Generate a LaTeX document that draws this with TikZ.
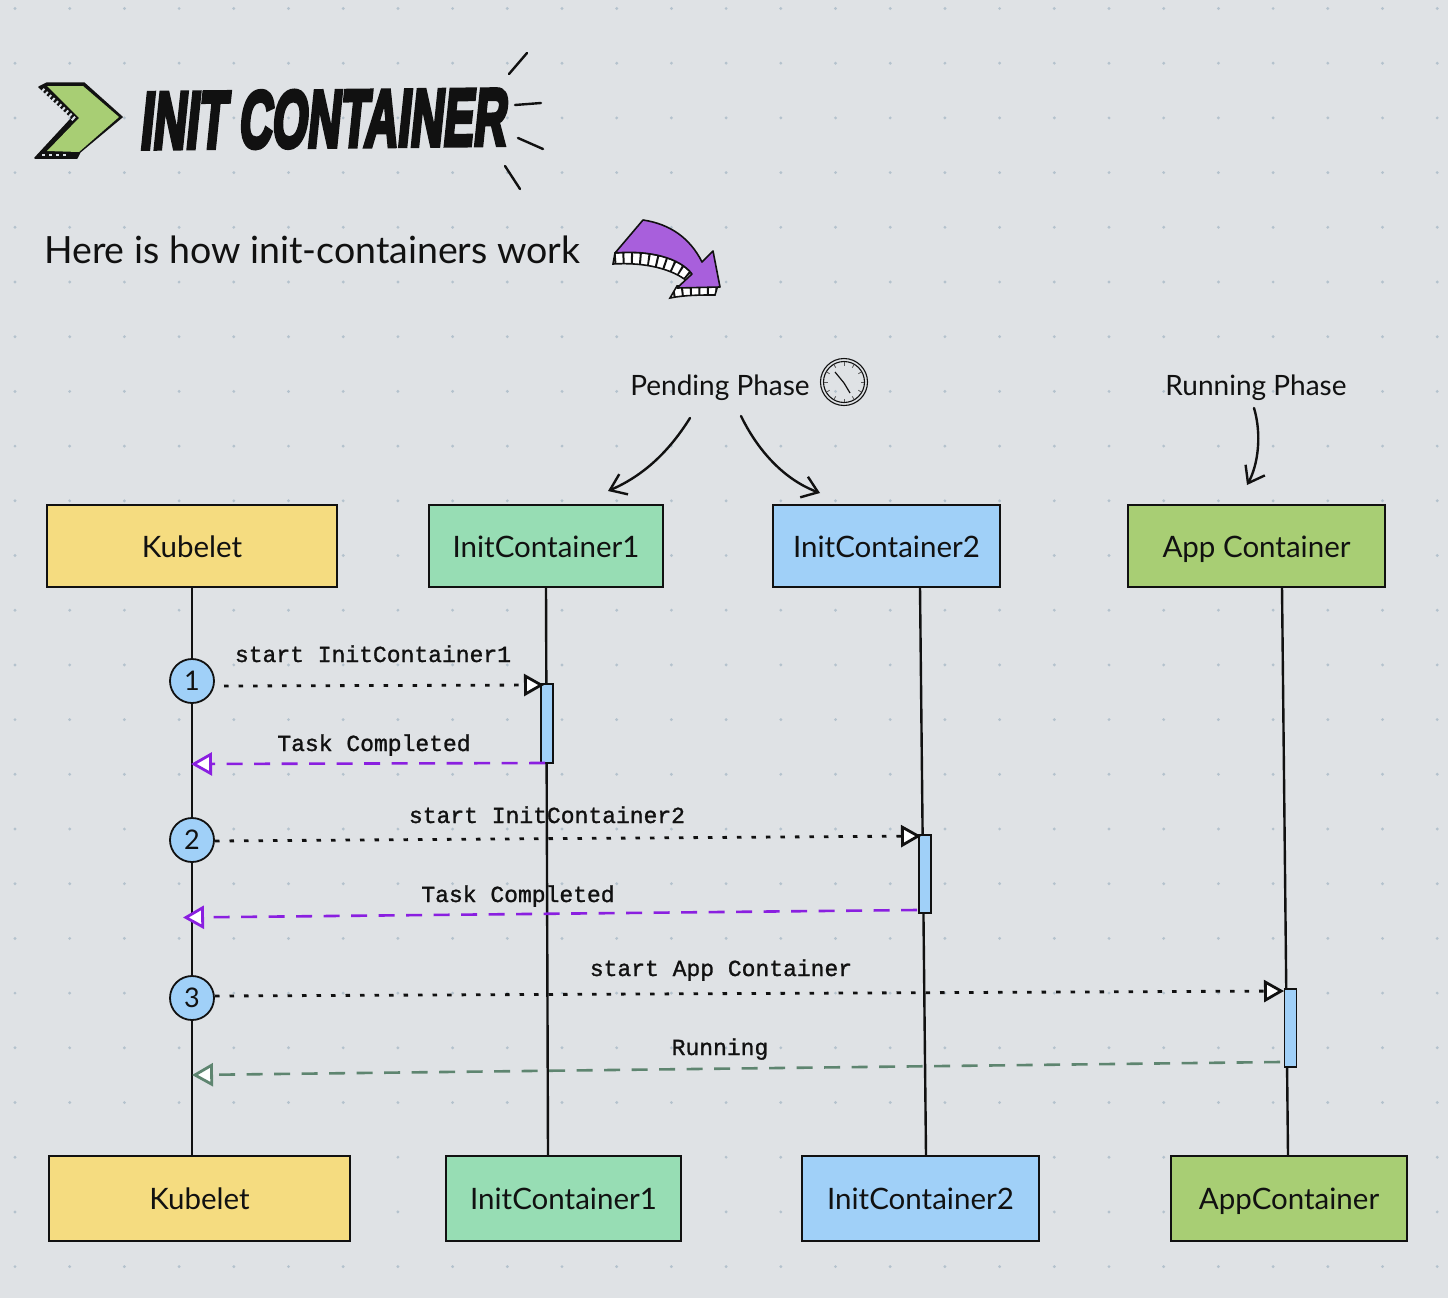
\documentclass[tikz,border=0pt]{standalone}
\usepackage{fontspec}
\usepackage{graphicx}
\usetikzlibrary{arrows.meta,calc}
\setmainfont{Lato}
\newfontfamily\msgfont[FakeBold=1.2]{Liberation Mono}
\newfontfamily\titlefont[FakeSlant=0.2,FakeBold=6]{Liberation Sans Bold}
\definecolor{bg}{HTML}{DFE2E5}
\definecolor{griddot}{HTML}{B4C2CD}
\definecolor{kyellow}{HTML}{F5DC80}
\definecolor{kgreen}{HTML}{97DDB4}
\definecolor{kblue}{HTML}{A0D0F8}
\definecolor{kolive}{HTML}{A8CE74}
\definecolor{kpurple}{HTML}{A85FDC}
\definecolor{retpurple}{HTML}{8A1FE0}
\definecolor{retgreen}{HTML}{5E8570}
\definecolor{ink}{HTML}{111111}
\tikzset{
  actor/.style={draw=ink,line width=2.4pt,inner sep=0pt,font=\fontsize{29.5}{32}\selectfont,text=ink,text height=28pt,text depth=6pt},
  life/.style={draw=ink,line width=2.4pt},
  activation/.style={draw=ink,line width=1.4pt,fill=kblue,minimum width=12pt,inner sep=0pt},
  stepcircle/.style={circle,draw=ink,line width=1.8pt,fill=kblue,minimum size=44pt,inner sep=0pt,font=\fontsize{27}{30}\selectfont,text=ink},
  msgtext/.style={font=\msgfont\fontsize{23}{26}\selectfont,text=ink,inner sep=0pt,text height=19pt,text depth=5pt},
  callmsg/.style={draw=ink,line width=2.8pt,dash pattern=on 4.5pt off 10pt,
     -{Triangle[open,fill=white,length=20pt,width=22pt,line width=2.8pt]}},
  retmsg/.style={line width=2.6pt,dash pattern=on 16pt off 11.5pt,
     -{Triangle[open,fill=white,length=21pt,width=23pt,line width=2.8pt]}},
  hand/.style={draw=ink,line width=2.4pt,line cap=round,-{Straight Barb[length=15pt,width=22pt,line width=2.4pt]}},
  spark/.style={draw=ink,line width=2.4pt,line cap=round},
  phase/.style={font=\fontsize{28}{32}\selectfont,text=ink,inner sep=0pt,text height=28pt,text depth=6pt},
}
\begin{document}
\begin{tikzpicture}[x=1pt,y=-1pt]
\useasboundingbox (0,0) rectangle (1448,1298);
\fill[bg] (0,0) rectangle (1448,1298);
\foreach \i in {0,...,26}{\foreach \j in {0,...,23}{
  \fill[griddot] ({15+54.7*\i},{8.5+54.7*\j}) circle (1.6pt);}}

% chevron logo
\fill[ink,draw=ink,line width=1.5pt,line join=round] (39,87) -- (47,83) -- (84,83) -- (122,117) -- (80,152) -- (77,158) -- (35,158) -- (72,118) -- cycle;
\fill[kolive] (47,86) -- (83,86) -- (119,117) -- (79,152) -- (47,151) -- (79,118) -- cycle;
\draw[griddot!50!white,line width=5pt,dash pattern=on 2pt off 2.6pt] (42,90) -- (75,120);
\draw[griddot!50!white,line width=2.5pt,dash pattern=on 2.5pt off 4.5pt] (42,155) -- (70,155);

% title
\node[inner sep=0pt,text=ink,rotate=0.6,font=\titlefont\fontsize{76}{78}\selectfont] (title) at (322,119) {\resizebox{366pt}{56pt}{INIT CONTAINER}};
\draw[spark] (509,74) -- (527,53);
\draw[spark] (515,105) -- (541,103);
\draw[spark] (518,138) -- (543,149);
\draw[spark] (505,166) -- (520,189);

% subtitle
\node[anchor=west,inner sep=0pt,text=ink,font=\fontsize{37.5}{42}\selectfont] (subtitle) at (44,250) {Here is how init-containers work};

% purple arrow
\path[fill=white,draw=ink,line width=1.6pt] (613,264) -- (615,253) .. controls (650,250) and (680,258) .. (692,274) -- (687,281) .. controls (672,269) and (645,262) .. (613,264) -- cycle;
\begin{scope}
\clip (613,264) -- (615,253) .. controls (650,250) and (680,258) .. (692,274) -- (687,281) .. controls (672,269) and (645,262) .. (613,264) -- cycle;
\draw[ink,line width=14pt,dash pattern=on 2pt off 6.5pt] (614,258) .. controls (648,255) and (675,262) .. (690,277);
\end{scope}
\path[fill=white,draw=ink,line width=1.6pt] (677,286) -- (718,285) -- (715,295) .. controls (700,295) and (685,295) .. (670,298) -- cycle;
\begin{scope}
\clip (677,286) -- (718,285) -- (715,295) .. controls (700,295) and (685,295) .. (670,298) -- cycle;
\draw[ink,line width=14pt,dash pattern=on 2pt off 6.5pt] (673,293) .. controls (690,290) and (700,291) .. (717,291);
\end{scope}
\path[fill=kpurple,draw=ink,line width=1.6pt,line join=round] (615,253) -- (643,220) .. controls (670,224) and (690,238) .. (702,262) -- (713,251) -- (720,287) -- (677,288) -- (692,274) .. controls (680,258) and (650,250) .. (615,253) -- cycle;

% phase labels
\node[phase] (pending) at (720,384) {Pending Phase};
\node[phase] (running) at (1256,384) {Running Phase};
% clock
\node[circle,draw=ink,line width=1.1pt,minimum size=47pt,inner sep=0pt] (clock) at (844,382) {};
\draw[ink,line width=1.1pt] (clock.center) circle (20.5pt);
\foreach \a in {0,30,...,330}{\draw[ink!70,line width=.8pt] ($(clock.center)+(\a:20pt)$) -- ($(clock.center)+(\a:16.5pt)$);}
\draw[ink,line width=1.2pt] (835,372) -- (844,383);
\draw[ink,line width=1.2pt] (844,383) -- (850,393);

% top actors
\node[actor,fill=kyellow,minimum width=290pt,minimum height=82pt] (kubT) at (192,546) {Kubelet};
\node[actor,fill=kgreen,minimum width=234pt,minimum height=82pt] (ic1T) at (546,546) {InitContainer1};
\node[actor,fill=kblue,minimum width=227pt,minimum height=82pt] (ic2T) at (886.5,546) {InitContainer2};
\node[actor,fill=kolive,minimum width=257pt,minimum height=82pt] (appT) at (1256.5,546) {App Container};
% bottom actors
\node[actor,fill=kyellow,minimum width=301pt,minimum height=85pt] (kubB) at (199.5,1198.5) {Kubelet};
\node[actor,fill=kgreen,minimum width=235pt,minimum height=85pt] (ic1B) at (563.5,1198.5) {InitContainer1};
\node[actor,fill=kblue,minimum width=237pt,minimum height=85pt] (ic2B) at (920.5,1198.5) {InitContainer2};
\node[actor,fill=kolive,minimum width=236pt,minimum height=85pt] (appB) at (1289,1198.5) {AppContainer};

% lifelines
\coordinate (l1a) at (192,587); \coordinate (l1b) at (192,1155);
\coordinate (l2a) at (546,587); \coordinate (l2b) at (548,1155);
\coordinate (l3a) at (920,587); \coordinate (l3b) at (926,1155);
\coordinate (l4a) at (1282,587); \coordinate (l4b) at (1288,1155);
\draw[life] (l1a) -- (l1b);
\draw[life] (l2a) -- (l2b);
\draw[life] (l3a) -- (l3b);
\draw[life] (l4a) -- (l4b);

% phase arrows
\coordinate (p1s) at (690,418); \coordinate (p1e) at (608,491);
\coordinate (p2s) at (741,416); \coordinate (p2e) at (820,493);
\coordinate (p3s) at (1254,408); \coordinate (p3e) at (1247,485);
\draw[hand] (p1s) .. controls (670,450) and (645,475) .. (p1e);
\draw[hand] (p2s) .. controls (755,445) and (780,478) .. (p2e);
\draw[hand] (p3s) .. controls (1262,435) and (1258,465) .. (p3e);

% activations
\node[activation,minimum height=79pt] (act1) at (547,723.5) {};
\node[activation,minimum height=78pt] (act2) at (925,874) {};
\node[activation,minimum height=78pt] (act3) at (1290.5,1028) {};

% step circles
\node[stepcircle] (s1) at (192,681) {1};
\node[stepcircle] (s2) at (192,840) {2};
\node[stepcircle] (s3) at (192,998) {3};

% messages
\coordinate (m1s) at (224,686); \coordinate (m1e) at (544,685);
\coordinate (r1s) at (545,763); \coordinate (r1e) at (191,764);
\coordinate (m2s) at (215,841); \coordinate (m2e) at (921,836);
\coordinate (r2s) at (917,910); \coordinate (r2e) at (183,917.5);
\coordinate (m3s) at (215,996); \coordinate (m3e) at (1284,991);
\coordinate (r3s) at (1280,1062); \coordinate (r3e) at (192,1075);
\draw[callmsg] (m1s) -- (m1e);
\draw[retmsg,draw=retpurple] (r1s) -- (r1e);
\draw[callmsg] (m2s) -- (m2e);
\draw[retmsg,draw=retpurple] (r2s) -- (r2e);
\draw[callmsg] (m3s) -- (m3e);
\draw[retmsg,draw=retgreen] (r3s) -- (r3e);

\node[msgtext] (t1) at (373,655) {start InitContainer1};
\node[msgtext] (t2) at (374,744) {Task Completed};
\node[msgtext] (t3) at (547,816) {start InitContainer2};
\node[msgtext] (t4) at (518,895) {Task Completed};
\node[msgtext] (t5) at (721,969) {start App Container};
\node[msgtext] (t6) at (720,1048) {Running};
\end{tikzpicture}
\end{document}
